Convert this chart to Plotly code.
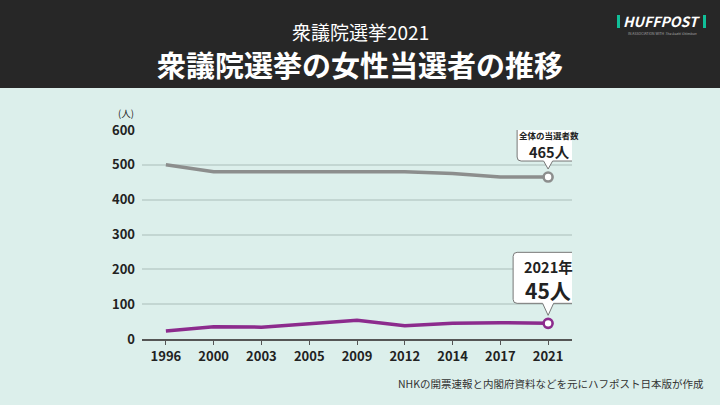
import plotly.graph_objects as go

years = ["1996", "2000", "2003", "2005", "2009", "2012", "2014", "2017", "2021"]
total_seats = [500, 480, 480, 480, 480, 480, 475, 465, 465]
women_elected = [23, 35, 34, 43, 54, 38, 45, 47, 45]
y_ticks = [0, 100, 200, 300, 400, 500, 600]

FONT = "Noto Sans CJK JP"
BG = "#dcefeb"
GREY = "#8c8e8d"
PURPLE = "#8c2b8d"

fig = go.Figure()

n = len(years)
last_idx = n - 1

for vals, col in [(total_seats, GREY), (women_elected, PURPLE)]:
    fig.add_trace(go.Scatter(
        x=list(range(n)), y=vals, mode="lines",
        line=dict(color=col, width=3.5), hoverinfo="skip", showlegend=False))
    fig.add_trace(go.Scatter(
        x=[last_idx], y=[vals[-1]], mode="markers",
        marker=dict(size=9, color="#ffffff", line=dict(color=col, width=2.6)),
        hoverinfo="skip", showlegend=False))


def bubble(w, h, gap, th, tw, r, cx=0):
    L = cx - w / 2
    R = cx + w / 2
    B = gap + th
    T = B + h
    return (f"M 0,{gap} L {tw/2},{B} L {R-r},{B} Q {R},{B} {R},{B+r} "
            f"L {R},{T-r} Q {R},{T} {R-r},{T} L {L+r},{T} Q {L},{T} {L},{T-r} "
            f"L {L},{B+r} Q {L},{B} {L+r},{B} L {-tw/2},{B} Z")


plot_top = 130
plot_h = 209
plot_l = 142
plot_w = 430


def px_y(py):
    return 1 + (plot_top - py) / plot_h


def px_x(px):
    return (px - plot_l) / plot_w


shapes = [
    dict(type="rect", xref="paper", yref="paper", x0=-1, x1=2, y0=px_y(88), y1=px_y(-5),
         fillcolor="#272727", line=dict(width=0), layer="below"),
    dict(type="path", xref="x", yref="y", xsizemode="pixel", ysizemode="pixel",
         xanchor=last_idx, yanchor=total_seats[-1],
         path=bubble(64, 36, 8, 8, 9, 4, cx=1),
         fillcolor="#ffffff", line=dict(color="#777777", width=1)),
    dict(type="path", xref="x", yref="y", xsizemode="pixel", ysizemode="pixel",
         xanchor=last_idx, yanchor=women_elected[-1],
         path=bubble(71, 51, 8, 12, 11, 4, cx=0.5),
         fillcolor="#ffffff", line=dict(color="#777777", width=1)),
]
# green bars of logo
for x0 in (617, 703):
    shapes.append(dict(type="rect", xref="paper", yref="paper",
                       x0=px_x(x0), x1=px_x(x0 + 3), y0=px_y(28), y1=px_y(15),
                       fillcolor="#10bf98", line=dict(width=0)))


def paper_text(text, px, py, size, color, xanchor="center", **kw):
    return dict(text=text, xref="paper", yref="paper", x=px_x(px), y=px_y(py),
                xanchor=xanchor, yanchor="middle", showarrow=False,
                font=dict(family=FONT, size=size, color=color, **kw))


annotations = [
    paper_text("衆議院選挙2021", 360, 31, 19, "#ffffff"),
    paper_text("<b>衆議院選挙の女性当選者の推移</b>", 360, 64, 29, "#ffffff"),
    paper_text("(人)", 126, 113, 9.5, "#222222"),
    paper_text("NHKの開票速報と内閣府資料などを元にハフポスト日本版が作成", 706, 383, 10.5,
               "#333333", xanchor="right"),
    paper_text("<b><i>HUFFPOST</i></b>", 661, 21, 14, "#ffffff"),
    paper_text("IN ASSOCIATION WITH <i>The Asahi Shimbun</i>", 662, 33, 3.5, "#aaaaaa"),
    # callout texts
    dict(text="<b>全体の当選者数</b>", xref="x", yref="y", x=last_idx, y=total_seats[-1],
         yshift=42, xshift=1, showarrow=False, yanchor="middle",
         font=dict(family=FONT, size=8.5, color="#222222")),
    dict(text="<b>465人</b>", xref="x", yref="y", x=last_idx, y=total_seats[-1],
         yshift=26, xshift=1, showarrow=False, yanchor="middle",
         font=dict(family=FONT, size=14.5, color="#222222")),
    dict(text="<b>2021年</b>", xref="x", yref="y", x=last_idx, y=women_elected[-1],
         yshift=57, showarrow=False, yanchor="middle",
         font=dict(family=FONT, size=14.5, color="#222222")),
    dict(text="<b>45人</b>", xref="x", yref="y", x=last_idx, y=women_elected[-1],
         yshift=33, showarrow=False, yanchor="middle",
         font=dict(family=FONT, size=21, color="#222222")),
]

fig.update_layout(
    width=720, height=405,
    margin=dict(l=plot_l, r=720 - plot_l - plot_w, t=plot_top, b=405 - plot_top - plot_h),
    paper_bgcolor=BG, plot_bgcolor=BG,
    shapes=shapes, annotations=annotations,
    font=dict(family=FONT),
    xaxis=dict(
        range=[-0.5, n - 0.5],
        tickmode="array", tickvals=list(range(n)),
        ticktext=[f"<b>{y}</b>" for y in years],
        showgrid=False, zeroline=False,
        showline=True, linecolor="#555555", linewidth=2,
        ticks="outside", ticklen=4, tickwidth=1.2, tickcolor="#555555",
        tickfont=dict(family=FONT, size=13, color="#222222"),
        fixedrange=True,
    ),
    yaxis=dict(
        range=[0, 600],
        tickmode="array", tickvals=y_ticks,
        ticktext=[f"<b>{v}</b>" for v in y_ticks],
        showgrid=True, gridcolor="#c3d6d2", gridwidth=1.5,
        zeroline=False, showline=False,
        ticks="", ticklabelstandoff=6,
        tickfont=dict(family=FONT, size=13, color="#222222"),
        fixedrange=True,
    ),
)

fig.write_html("out.html", config={"displayModeBar": False},
               post_script="document.body.style.margin='0';document.body.style.overflow='hidden';")
